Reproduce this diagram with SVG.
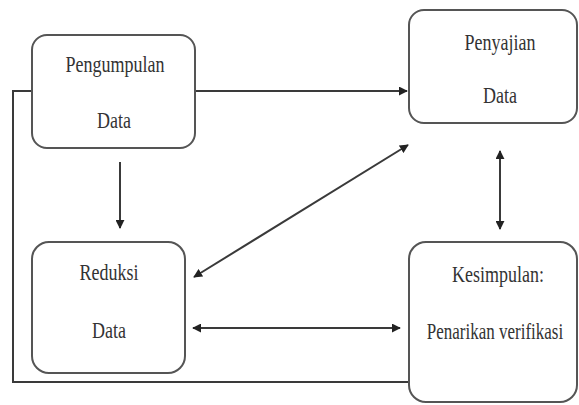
<svg xmlns="http://www.w3.org/2000/svg" width="579" height="405" viewBox="0 0 579 405">
<style>
.box{fill:#fff;stroke:#555;stroke-width:2}
.lbl{font-family:'Liberation Serif','Times New Roman',serif;font-size:18px;fill:#333;text-anchor:middle}
.ln{fill:none;stroke:#3a3a3a;stroke-width:2}
</style>
<defs>
<marker id="ah" viewBox="0 0 10 10" refX="9" refY="5" markerWidth="4.5" markerHeight="4.5" orient="auto-start-reverse" markerUnits="strokeWidth">
<path d="M0,0 L10,5 L0,10 Z" fill="#222"/>
</marker>
</defs>
<rect width="579" height="405" fill="#fff"/>
<g id="connectors">
<polyline class="ln" points="32,91 13,91 13,382 409,382"/>
<line class="ln" x1="195" y1="91" x2="407" y2="91" marker-end="url(#ah)"/>
<line class="ln" x1="120" y1="162" x2="120" y2="228" marker-end="url(#ah)"/>
<line class="ln" x1="194" y1="277" x2="408" y2="145" marker-start="url(#ah)" marker-end="url(#ah)"/>
<line class="ln" x1="500" y1="151" x2="500" y2="229" marker-start="url(#ah)" marker-end="url(#ah)"/>
<line class="ln" x1="193" y1="328" x2="400" y2="328" marker-start="url(#ah)" marker-end="url(#ah)"/>
</g>
<g id="pengumpulan">
<rect class="box" x="32" y="35" width="163" height="113" rx="15"/>
<text class="lbl" transform="translate(115,72) scale(1,1.3)">Pengumpulan</text>
<text class="lbl" transform="translate(114,128) scale(1,1.3)">Data</text>
</g>
<g id="penyajian">
<rect class="box" x="409" y="10" width="168" height="113" rx="15"/>
<text class="lbl" transform="translate(500,50) scale(1,1.3)">Penyajian</text>
<text class="lbl" transform="translate(500,103) scale(1,1.3)">Data</text>
</g>
<g id="reduksi">
<rect class="box" x="32" y="242" width="153" height="131" rx="17"/>
<text class="lbl" transform="translate(109,280) scale(1,1.3)">Reduksi</text>
<text class="lbl" transform="translate(109,338) scale(1,1.3)">Data</text>
</g>
<g id="kesimpulan">
<rect class="box" x="409" y="242" width="168" height="160" rx="17"/>
<text class="lbl" transform="translate(498,282) scale(1,1.3)">Kesimpulan:</text>
<text class="lbl" transform="translate(495,339) scale(1,1.3)" style="font-size:17px">Penarikan verifikasi</text>
</g>
</svg>
